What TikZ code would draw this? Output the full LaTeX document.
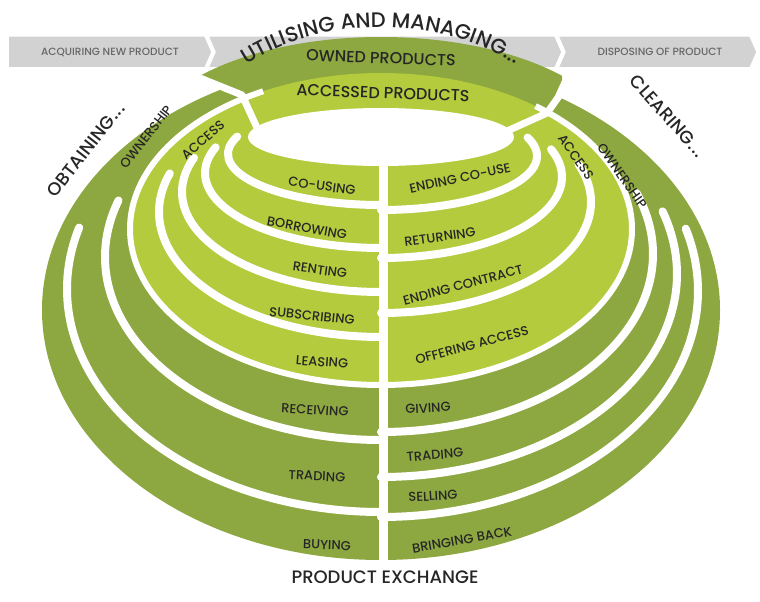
\documentclass[tikz,border=0pt]{standalone}
\usepackage{fontspec}
\setmainfont{Poppins}[UprightFont=* Medium]
\usetikzlibrary{decorations.text}
\definecolor{dk}{HTML}{8DA840}
\definecolor{lt}{HTML}{B3CB3C}
\definecolor{gy}{HTML}{D2D2D2}
\begin{document}
\begin{tikzpicture}[x=1pt,y=-1pt,
  lab/.style={font=\fontsize{13}{13}\selectfont,text=black!85},
  big/.style={font=\fontsize{18}{18}\selectfont,text=black!85},
  bar/.style={font=\fontsize{10.5}{10.5}\selectfont,text=black!60},
  gap/.style={white,line width=8pt,line cap=round},
  chev/.style={fill=gy,draw=white,line width=1.5pt}]
\useasboundingbox (0,0) rectangle (760,602);
% gray bar
\path[chev] (8,36)--(205,36)--(212,52)--(205,68)--(8,68)--cycle;
\path[chev] (208,36)--(555,36)--(562,52)--(555,68)--(208,68)--(215,52)--cycle;
\path[chev] (558,36)--(750,36)--(757,52)--(750,68)--(558,68)--(565,52)--cycle;
\node[bar] (acq) at (110,52) {ACQUIRING NEW PRODUCT};
\node[bar] (dis) at (660,52) {DISPOSING OF PRODUCT};
% dark body
\fill[dk] (381,310) ellipse[x radius=339,y radius=250];
\begin{scope}
\clip (200,0)--(200,78)--(242,95)--(257,130)--(510,130)--(547,113)--(562,80)--(562,0)--cycle;
\fill[dk] (381,150) ellipse[x radius=240,y radius=113];
\end{scope}
% light
\fill[lt] (381,229) ellipse[x radius=251,y radius=156];
% dark/light boundary
\draw[white,line width=6pt] (381,385) arc[start angle=90,end angle=242,x radius=251,y radius=156];
\draw[white,line width=6pt] (381,385) arc[start angle=90,end angle=-52,x radius=251,y radius=156];
% left gaps
\draw[gap] (381,512) arc[start angle=90,end angle=196,x radius=314,y radius=223];
\draw[gap] (381,440) arc[start angle=90,end angle=198,x radius=276,y radius=183];
\draw[gap] (381,337) arc[start angle=90,end angle=198,x radius=222,y radius=125];
\draw[gap] (381,292) arc[start angle=90,end angle=200,x radius=199,y radius=100];
\draw[gap] (381,248) arc[start angle=90,end angle=200,x radius=176,y radius=75];
\draw[gap] (381,205) arc[start angle=90,end angle=200,x radius=153,y radius=51];
% right gaps
\draw[gap] (381,517) arc[start angle=90,end angle=-16,x radius=317,y radius=226];
\draw[gap] (381,477) arc[start angle=90,end angle=-18,x radius=296,y radius=203];
\draw[gap] (381,432) arc[start angle=90,end angle=-20,x radius=272,y radius=178];
\draw[gap] (381,313) arc[start angle=90,end angle=-20,x radius=210,y radius=111];
\draw[gap] (381,258) arc[start angle=90,end angle=-20,x radius=181,y radius=81];
\draw[gap] (381,210) arc[start angle=90,end angle=-20,x radius=156,y radius=54];
% hole
\fill[white] (381,137) ellipse[x radius=133,y radius=29];
% cuts
\draw[white,line width=7pt,line join=round] (190,74)--(242,95)--(258,130);
\draw[white,line width=7pt,line join=round] (572,78)--(547,113)--(505,132);
% center split
\draw[white,line width=9pt] (383,150)--(383,570);
% labels left
\node[lab,rotate=-8] (l1) at (322,186) {CO-USING};
\node[lab,rotate=-10] (l2) at (307,228) {BORROWING};
\node[lab,rotate=-8] (l3) at (320,270) {RENTING};
\node[lab,rotate=-6] (l4) at (312,316) {SUBSCRIBING};
\node[lab,rotate=-4] (l5) at (322,362) {LEASING};
\node[lab,rotate=-3] (l6) at (315,410) {RECEIVING};
\node[lab,rotate=-3] (l7) at (317,476) {TRADING};
\node[lab,rotate=-2] (l8) at (327,545) {BUYING};
% labels right
\node[lab,rotate=12] (r1) at (460,178) {ENDING CO-USE};
\node[lab,rotate=8] (r2) at (440,237) {RETURNING};
\node[lab,rotate=15] (r3) at (463,285) {ENDING CONTRACT};
\node[lab,rotate=15] (r4) at (472,345) {OFFERING ACCESS};
\node[lab,rotate=3] (r5) at (428,408) {GIVING};
\node[lab,rotate=5] (r6) at (435,455) {TRADING};
\node[lab,rotate=3] (r7) at (433,496) {SELLING};
\node[lab,rotate=10] (r8) at (462,540) {BRINGING BACK};
% top labels
\node[font=\fontsize{16}{16}\selectfont,text=black!85,rotate=-2] (own) at (381,58) {OWNED PRODUCTS};
\node[font=\fontsize{16}{16}\selectfont,text=black!85,rotate=-2] (acc) at (383,93) {ACCESSED PRODUCTS};
\path[decorate,decoration={text along path,text align=center,
  text={|\fontsize{21}{21}\selectfont\color{black!85}|UTILISING AND MANAGING...}}]
  (213,92) arc[start angle=215,end angle=325,x radius=205,y radius=152];
\node[lab,rotate=52] (ownl) at (146,137) {OWNERSHIP};
\node[lab,rotate=40] (accl) at (203,140) {ACCESS};
\node[lab,rotate=-55] (accr) at (576,157) {ACCESS};
\node[lab,rotate=-55] (ownr) at (622,176) {OWNERSHIP};
\node[big,rotate=-48] (clr) at (668,116) {CLEARING\kern1pt.\kern1pt.\kern1pt.};
\node[big,rotate=52] (obt) at (86,150) {OBTAINING\kern1pt.\kern1pt.\kern1pt.};
\node[big] (pex) at (385,577) {PRODUCT EXCHANGE};
\end{tikzpicture}
\end{document}
